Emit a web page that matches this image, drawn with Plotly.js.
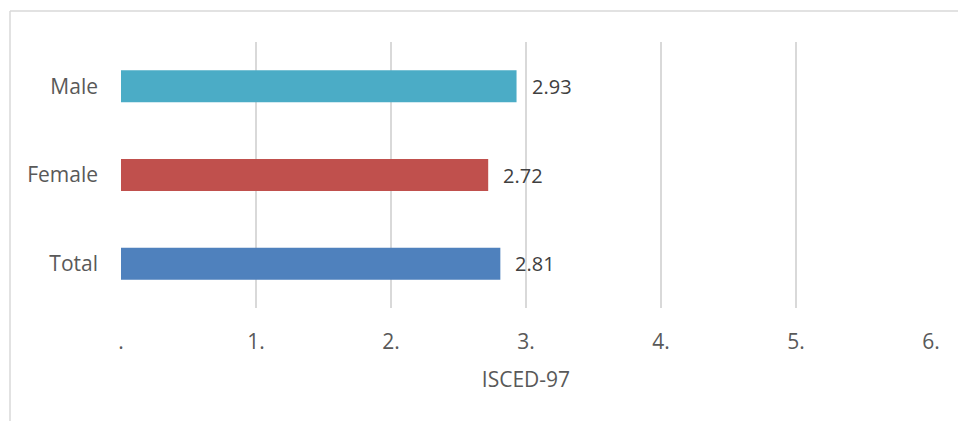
<!DOCTYPE html>
<html>
<head>
<meta charset="utf-8">
<script src="https://cdn.plot.ly/plotly-3.0.1.min.js"></script>
<style>
  html, body { margin: 0; padding: 0; background: #ffffff; }
  #chart { width: 958px; height: 421px; }
</style>
</head>
<body>
<div id="chart"></div>
<script>
// Mean ISCED-97 level by group
const categories = ["Total", "Female", "Male"];
const values = [2.81, 2.72, 2.93];
const barColors = ["#4F81BD", "#C0504D", "#4BACC6"];
const tickValues = [0, 1, 2, 3, 4, 5, 6];
const tickLabels = [".", "1.", "2.", "3.", "4.", "5.", "6."];
const axisTitle = "ISCED-97";

const W = 958, H = 421;
const margin = { l: 121, r: 27, t: 42, b: 113 };
const pw = W - margin.l - margin.r;
const ph = H - margin.t - margin.b;
const FONT = "Open Sans, sans-serif";

// outer frame: only top and left edges fall inside the view
const frameLeft = (10 - margin.l) / pw;
const frameTop = 1 + (margin.t - 11) / ph;

const trace = {
  type: "bar",
  orientation: "h",
  y: categories,
  x: values,
  marker: { color: barColors },
  hoverinfo: "none"
};

// value labels placed just past the end of each bar
const valueLabels = categories.map((c, i) => ({
  x: values[i],
  y: c,
  xref: "x",
  yref: "y",
  text: values[i].toFixed(2),
  showarrow: false,
  xanchor: "left",
  yanchor: "middle",
  xshift: 13,
  font: { family: FONT, size: 20, color: "#404040" }
}));

const layout = {
  width: W,
  height: H,
  margin: margin,
  paper_bgcolor: "#ffffff",
  plot_bgcolor: "#ffffff",
  showlegend: false,
  bargap: 0.64,
  font: { family: FONT, color: "#595959", size: 21 },
  xaxis: {
    range: [0, 6],
    tickvals: tickValues,
    ticktext: tickLabels,
    showgrid: true,
    gridcolor: "#d9d9d9",
    gridwidth: 1.5,
    zeroline: false,
    showline: false,
    ticks: "",
    ticklabelstandoff: 19,
    tickfont: { size: 21, color: "#595959" },
    title: { text: axisTitle, font: { size: 21, color: "#595959" }, standoff: 18 },
    fixedrange: true
  },
  yaxis: {
    type: "category",
    categoryorder: "array",
    categoryarray: categories,
    range: [-0.5, 2.5],
    showgrid: false,
    zeroline: false,
    showline: false,
    ticks: "",
    ticklabelstandoff: 22,
    tickfont: { size: 21, color: "#595959" },
    fixedrange: true
  },
  annotations: valueLabels,
  shapes: [
    { type: "line", xref: "paper", yref: "paper", x0: frameLeft, x1: 1.2, y0: frameTop, y1: frameTop,
      line: { color: "#d9d9d9", width: 1.5 } },
    { type: "line", xref: "paper", yref: "paper", x0: frameLeft, x1: frameLeft, y0: frameTop, y1: -1,
      line: { color: "#d9d9d9", width: 1.5 } }
  ]
};

Plotly.newPlot("chart", [trace], layout, { displayModeBar: false, staticPlot: true });
</script>
</body>
</html>
